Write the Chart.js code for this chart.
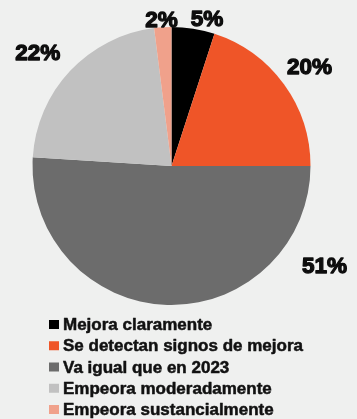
<!DOCTYPE html>
<html>
<head>
<meta charset="utf-8">
<script src="https://cdn.jsdelivr.net/npm/chart.js@4.4.1/dist/chart.umd.min.js"></script>
<style>
  html, body { margin: 0; padding: 0; background: #eff0ef; }
  #wrap { width: 357px; height: 419px; position: relative; }
</style>
</head>
<body>
<div id="wrap"><canvas id="myChart" width="357" height="419"></canvas></div>
<script>
// answers, in drawing order (clockwise from 12 o'clock)
var labels = ['Mejora claramente', 'Se detectan signos de mejora', 'Va igual que en 2023', 'Empeora moderadamente', 'Empeora sustancialmente'];
var values = [5, 20, 51, 22, 2];
var colors = ['#000000', '#ef5528', '#6c6c6c', '#c1c1c1', '#f0a18b'];

// where each % label sits: fraction along its slice, and gap outside the rim
var labelFrac = [0.755, 0.504, 0.181, 0.461, 0.46];
var labelGap = [12, 31, 44, 36, 8];

var pctLabels = {
  id: 'pctLabels',
  afterDatasetsDraw: function(chart) {
    var c = chart.ctx;
    var arcs = chart.getDatasetMeta(0).data;
    c.save();
    c.font = 'bold 22.5px "Liberation Sans", Arial, sans-serif';
    c.fillStyle = '#0d0d0d';
    c.strokeStyle = '#0d0d0d';
    c.lineWidth = 1.3;
    c.lineJoin = 'round';
    c.textAlign = 'center';
    c.textBaseline = 'middle';
    arcs.forEach(function(arc, i) {
      var p = arc.getProps(['x', 'y', 'startAngle', 'endAngle', 'outerRadius'], true);
      var a = p.startAngle + labelFrac[i] * (p.endAngle - p.startAngle);
      var r = p.outerRadius + labelGap[i];
      var tx = p.x + Math.cos(a) * r, ty = p.y + Math.sin(a) * r + 1;
      c.strokeText(values[i] + '%', tx, ty);
      c.fillText(values[i] + '%', tx, ty);
    });
    c.restore();
  }
};

var listLegend = {
  id: 'listLegend',
  afterDraw: function(chart) {
    var c = chart.ctx;
    c.save();
    c.font = 'bold 17px "Liberation Sans", Arial, sans-serif';
    c.textBaseline = 'middle';
    c.lineWidth = 0.5;
    c.lineJoin = 'round';
    labels.forEach(function(t, i) {
      var y = 324.5 + i * 21.25;
      c.fillStyle = colors[i];
      c.fillRect(49, y - 4.5, 10, 9);
      c.fillStyle = '#111111';
      c.strokeStyle = '#111111';
      c.strokeText(t, 63, y + 1);
      c.fillText(t, 63, y + 1);
    });
    c.restore();
  }
};

var ctx = document.getElementById('myChart').getContext('2d');
var myChart = new Chart(ctx, {
  type: 'pie',
  data: {
    labels: labels,
    datasets: [{
      data: values,
      backgroundColor: colors,
      borderWidth: 0
    }]
  },
  options: {
    responsive: false,
    animation: false,
    layout: { padding: { left: 32, right: 46, top: 27, bottom: 114 } },
    plugins: {
      legend: { display: false },
      tooltip: { enabled: false }
    }
  },
  plugins: [pctLabels, listLegend]
});
</script>
</body>
</html>
